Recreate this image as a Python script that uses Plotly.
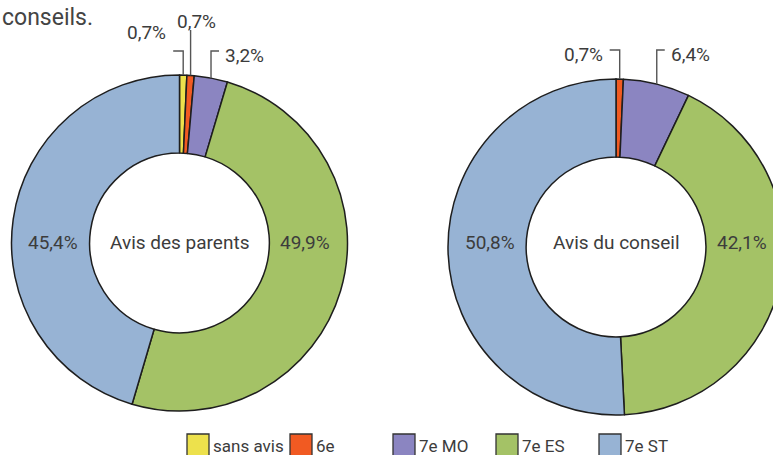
import math
import plotly.graph_objects as go

# ---- data ----
categories = ["sans avis", "6e", "7e MO", "7e ES", "7e ST"]
parents_values = [0.7, 0.7, 3.2, 49.9, 45.4]
conseil_values = [0.0, 0.7, 6.4, 42.1, 50.8]
pie_titles = ["Avis des parents", "Avis du conseil"]
colors = ["#EDE14C", "#F15A22", "#8B85C1", "#A4C266", "#97B3D4"]

# ---- layout constants (pixels) ----
W, H = 800, 455
FONT = "Roboto, Lato, sans-serif"
TXT = "#3c3c3c"
LINE = "#555555"
FS = 19

pies = [
    dict(vals=parents_values, cx=179.5, cy=243.0, r=168.0,
         big_pos={3: (305, 242), 4: (53, 242)},
         small={0: ("left", 51), 1: ("up", 30), 2: ("right", 51)}),
    dict(vals=conseil_values, cx=616.0, cy=247.0, r=168.0,
         big_pos={3: (742, 242), 4: (490, 242)},
         small={1: ("left", 50), 2: ("right", 50)}),
]


def px(x):
    return x / W


def py(y):
    return 1 - y / H


def fmt(v):
    return f"{v:.1f}".replace(".", ",") + "%"


def label(x, y, text, xanchor="center", size=FS, color=TXT):
    return dict(x=px(x), y=py(y), xref="paper", yref="paper", text=text,
                showarrow=False, xanchor=xanchor, yanchor="middle",
                font=dict(family=FONT, size=size, color=color))


fig = go.Figure()
annotations = []
shapes = []

for p, title in zip(pies, pie_titles):
    cx, cy, r = p["cx"], p["cy"], p["r"]
    fig.add_trace(go.Pie(
        labels=categories, values=p["vals"], sort=False, direction="clockwise",
        rotation=0, hole=0.535, textinfo="none", hoverinfo="label+percent",
        marker=dict(colors=colors, line=dict(color="#1e1e1e", width=1.5)),
        domain=dict(x=[px(cx - r), min(1, px(cx + r))], y=[py(cy + r), py(cy - r)]),
        showlegend=False,
    ))
    annotations.append(label(cx, 242, title))
    total = sum(p["vals"])
    cum = 0.0
    for i, v in enumerate(p["vals"]):
        mid = (cum + v / 2) / total * 2 * math.pi
        cum += v
        if i in p["big_pos"]:
            bx, by = p["big_pos"][i]
            annotations.append(label(bx, by, fmt(v)))
        if i in p["small"]:
            kind, ytop = p["small"][i]
            ax = cx + r * math.sin(mid)
            ay = cy - r * math.cos(mid)
            if kind == "up":
                path = f"M{px(ax)},{py(ay)} L{px(ax)},{py(ytop)}"
                annotations.append(label(ax + 6, ytop - 9, fmt(v)))
            else:
                d = -10 if kind == "left" else 8
                ex = ax + d
                path = (f"M{px(ax)},{py(ay)} L{px(ax)},{py(ytop)} "
                        f"L{px(ex)},{py(ytop)}")
                if kind == "left":
                    yl = ytop - 18 if i == 0 else ytop + 4
                    annotations.append(label(ex - 5, yl, fmt(v), xanchor="right"))
                else:
                    annotations.append(label(ex + 4, ytop + 4, fmt(v), xanchor="left"))
            shapes.append(dict(type="path", xref="paper", yref="paper", path=path,
                               line=dict(color=LINE, width=1.4)))

# ---- legend (drawn as squares + text) ----
LEG_X0, LEG_DX, LEG_Y, SQ = 187, 103, 434, 22
for i, (cat, col) in enumerate(zip(categories, colors)):
    x0 = LEG_X0 + i * LEG_DX
    shapes.append(dict(type="rect", xref="paper", yref="paper",
                       x0=px(x0), x1=px(x0 + SQ), y0=py(LEG_Y + SQ), y1=py(LEG_Y),
                       fillcolor=col, line=dict(color="#333333", width=1.3)))
    annotations.append(label(x0 + SQ + 2, 446, cat, xanchor="left", size=17))

# cropped text from preceding paragraph
annotations.append(label(0, 18, "conseils.", xanchor="left", size=23, color="#444444"))

fig.update_layout(
    width=W, height=H, margin=dict(l=0, r=0, t=0, b=0),
    paper_bgcolor="white", plot_bgcolor="white",
    annotations=annotations, shapes=shapes, showlegend=False,
)

fig.write_html("out.html", config={"displayModeBar": False},
               post_script="document.body.style.margin='0';document.body.style.overflow='hidden';")
